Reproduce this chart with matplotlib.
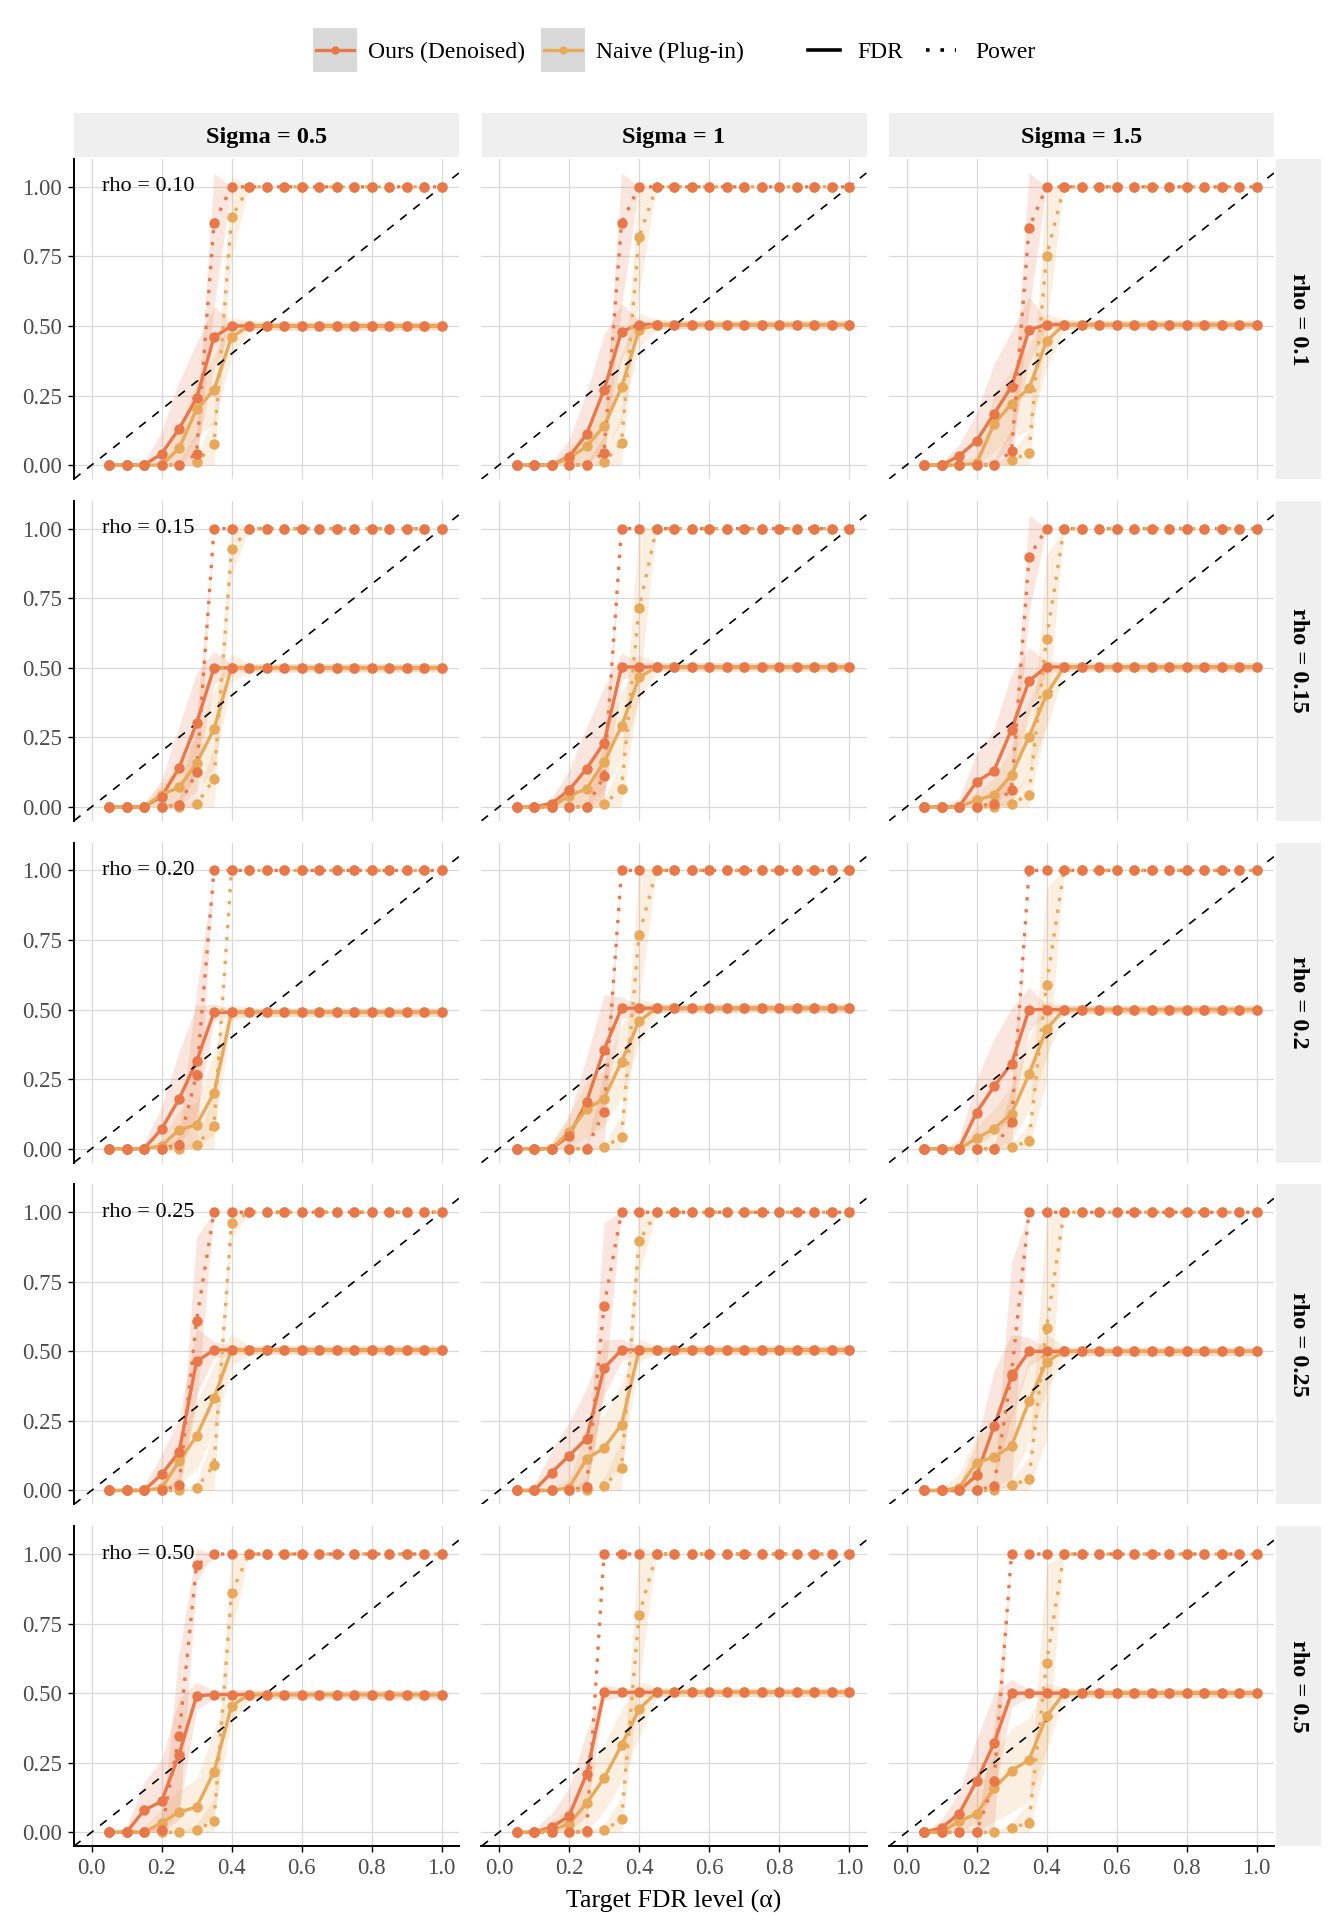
import matplotlib
matplotlib.use("Agg")
import numpy as np
import matplotlib.pyplot as plt
from matplotlib.patches import Rectangle
from matplotlib.lines import Line2D

plt.rcParams["font.family"] = ["Liberation Serif", "DejaVu Serif"]

# target FDR levels (x axis)
X = [0.05, 0.10, 0.15, 0.20, 0.25, 0.30, 0.35, 0.40, 0.45, 0.50,
     0.55, 0.60, 0.65, 0.70, 0.75, 0.80, 0.85, 0.90, 0.95, 1.00]
RHO = ["0.1", "0.15", "0.2", "0.25", "0.5"]
RHO_NOTE = ["rho = 0.10", "rho = 0.15", "rho = 0.20", "rho = 0.25", "rho = 0.50"]
SIGMA = ["0.5", "1", "1.5"]

# mean curves, indexed [rho][sigma] -> 20 values
OURS_FDR = [
    [[0, 0, 0, .04, .13, .24, .46, .50, .50, .50, .50, .50, .50, .50, .50, .50, .50, .50, .50, .50],
     [0, 0, 0, .03, .11, .27, .48, .505, .505, .505, .505, .505, .505, .505, .505, .505, .505, .505, .505, .505],
     [0, 0, .032, .087, .184, .282, .486, .505, .505, .505, .505, .505, .505, .505, .505, .505, .505, .505, .505, .505]],
    [[0, 0, 0, .037, .14, .30, .50, .50, .50, .50, .50, .50, .50, .50, .50, .50, .50, .50, .50, .50],
     [0, 0, .012, .06, .137, .23, .503, .503, .503, .503, .503, .503, .503, .503, .503, .503, .503, .503, .503, .503],
     [0, 0, 0, .09, .13, .278, .453, .503, .503, .503, .503, .503, .503, .503, .503, .503, .503, .503, .503, .503]],
    [[0, 0, 0, .07, .178, .314, .49, .49, .49, .49, .49, .49, .49, .49, .49, .49, .49, .49, .49, .49],
     [0, 0, 0, .046, .168, .355, .505, .505, .505, .505, .505, .505, .505, .505, .505, .505, .505, .505, .505, .505],
     [0, 0, 0, .13, .224, .305, .50, .50, .50, .50, .50, .50, .50, .50, .50, .50, .50, .50, .50, .50]],
    [[0, 0, 0, .058, .137, .464, .505, .505, .505, .505, .505, .505, .505, .505, .505, .505, .505, .505, .505, .505],
     [0, 0, .064, .125, .186, .44, .505, .505, .505, .505, .505, .505, .505, .505, .505, .505, .505, .505, .505, .505],
     [0, 0, 0, .054, .23, .41, .50, .50, .50, .50, .50, .50, .50, .50, .50, .50, .50, .50, .50, .50]],
    [[0, 0, .079, .111, .279, .49, .495, .495, .495, .495, .495, .495, .495, .495, .495, .495, .495, .495, .495, .495],
     [0, 0, .018, .058, .209, .503, .503, .503, .503, .503, .503, .503, .503, .503, .503, .503, .503, .503, .503, .503],
     [0, .016, .066, .183, .32, .50, .50, .50, .50, .50, .50, .50, .50, .50, .50, .50, .50, .50, .50, .50]],
]
NAIVE_FDR = [
    [[0, 0, 0, 0, .06, .20, .27, .46, .50, .50, .50, .50, .50, .50, .50, .50, .50, .50, .50, .50],
     [0, 0, 0, .025, .067, .14, .28, .485, .505, .505, .505, .505, .505, .505, .505, .505, .505, .505, .505, .505],
     [0, 0, 0, .006, .148, .22, .276, .445, .505, .505, .505, .505, .505, .505, .505, .505, .505, .505, .505, .505]],
    [[0, 0, 0, .044, .07, .156, .28, .50, .50, .50, .50, .50, .50, .50, .50, .50, .50, .50, .50, .50],
     [0, 0, 0, .04, .065, .16, .29, .465, .503, .503, .503, .503, .503, .503, .503, .503, .503, .503, .503, .503],
     [0, 0, 0, .024, .043, .115, .252, .404, .503, .503, .503, .503, .503, .503, .503, .503, .503, .503, .503, .503]],
    [[0, 0, 0, .01, .068, .086, .20, .49, .49, .49, .49, .49, .49, .49, .49, .49, .49, .49, .49, .49],
     [0, 0, 0, .06, .142, .18, .313, .458, .505, .505, .505, .505, .505, .505, .505, .505, .505, .505, .505, .505],
     [0, 0, 0, .037, .072, .125, .268, .43, .50, .50, .50, .50, .50, .50, .50, .50, .50, .50, .50, .50]],
    [[0, 0, 0, .008, .105, .195, .332, .505, .505, .505, .505, .505, .505, .505, .505, .505, .505, .505, .505, .505],
     [0, 0, 0, .01, .113, .153, .237, .505, .505, .505, .505, .505, .505, .505, .505, .505, .505, .505, .505, .505],
     [0, 0, .01, .10, .12, .16, .32, .463, .50, .50, .50, .50, .50, .50, .50, .50, .50, .50, .50, .50]],
    [[0, 0, 0, .034, .073, .09, .217, .454, .495, .495, .495, .495, .495, .495, .495, .495, .495, .495, .495, .495],
     [0, 0, .008, .03, .104, .194, .313, .442, .503, .503, .503, .503, .503, .503, .503, .503, .503, .503, .503, .503],
     [0, 0, .04, .066, .158, .222, .26, .417, .50, .50, .50, .50, .50, .50, .50, .50, .50, .50, .50, .50]],
]
OURS_POWER = [
    [[0, 0, 0, 0, 0, .04, .87, 1, 1, 1, 1, 1, 1, 1, 1, 1, 1, 1, 1, 1],
     [0, 0, 0, 0, 0, .045, .87, 1, 1, 1, 1, 1, 1, 1, 1, 1, 1, 1, 1, 1],
     [0, 0, 0, 0, 0, .05, .852, 1, 1, 1, 1, 1, 1, 1, 1, 1, 1, 1, 1, 1]],
    [[0, 0, 0, 0, .006, .124, 1, 1, 1, 1, 1, 1, 1, 1, 1, 1, 1, 1, 1, 1],
     [0, 0, 0, 0, 0, .11, 1, 1, 1, 1, 1, 1, 1, 1, 1, 1, 1, 1, 1, 1],
     [0, 0, 0, 0, .012, .06, .898, 1, 1, 1, 1, 1, 1, 1, 1, 1, 1, 1, 1, 1]],
    [[0, 0, 0, 0, .015, .265, 1, 1, 1, 1, 1, 1, 1, 1, 1, 1, 1, 1, 1, 1],
     [0, 0, 0, 0, 0, .133, 1, 1, 1, 1, 1, 1, 1, 1, 1, 1, 1, 1, 1, 1],
     [0, 0, 0, 0, 0, .095, 1, 1, 1, 1, 1, 1, 1, 1, 1, 1, 1, 1, 1, 1]],
    [[0, 0, 0, 0, .018, .61, 1, 1, 1, 1, 1, 1, 1, 1, 1, 1, 1, 1, 1, 1],
     [0, 0, 0, 0, .012, .663, 1, 1, 1, 1, 1, 1, 1, 1, 1, 1, 1, 1, 1, 1],
     [0, 0, 0, 0, .015, .42, 1, 1, 1, 1, 1, 1, 1, 1, 1, 1, 1, 1, 1, 1]],
    [[0, 0, 0, .007, .345, .96, 1, 1, 1, 1, 1, 1, 1, 1, 1, 1, 1, 1, 1, 1],
     [0, 0, 0, 0, .003, 1, 1, 1, 1, 1, 1, 1, 1, 1, 1, 1, 1, 1, 1, 1],
     [0, 0, 0, 0, .183, 1, 1, 1, 1, 1, 1, 1, 1, 1, 1, 1, 1, 1, 1, 1]],
]
NAIVE_POWER = [
    [[0, 0, 0, 0, 0, .01, .075, .89, 1, 1, 1, 1, 1, 1, 1, 1, 1, 1, 1, 1],
     [0, 0, 0, 0, 0, .01, .08, .82, 1, 1, 1, 1, 1, 1, 1, 1, 1, 1, 1, 1],
     [0, 0, 0, 0, 0, .017, .044, .75, 1, 1, 1, 1, 1, 1, 1, 1, 1, 1, 1, 1]],
    [[0, 0, 0, 0, 0, .01, .10, .927, 1, 1, 1, 1, 1, 1, 1, 1, 1, 1, 1, 1],
     [0, 0, 0, 0, 0, .01, .065, .713, 1, 1, 1, 1, 1, 1, 1, 1, 1, 1, 1, 1],
     [0, 0, 0, 0, 0, .012, .043, .605, 1, 1, 1, 1, 1, 1, 1, 1, 1, 1, 1, 1]],
    [[0, 0, 0, 0, 0, .012, .083, 1, 1, 1, 1, 1, 1, 1, 1, 1, 1, 1, 1, 1],
     [0, 0, 0, 0, 0, .006, .041, .768, 1, 1, 1, 1, 1, 1, 1, 1, 1, 1, 1, 1],
     [0, 0, 0, 0, 0, .005, .028, .59, 1, 1, 1, 1, 1, 1, 1, 1, 1, 1, 1, 1]],
    [[0, 0, 0, 0, 0, .008, .092, .962, 1, 1, 1, 1, 1, 1, 1, 1, 1, 1, 1, 1],
     [0, 0, 0, 0, 0, .015, .082, .896, 1, 1, 1, 1, 1, 1, 1, 1, 1, 1, 1, 1],
     [0, 0, 0, 0, 0, .018, .042, .585, 1, 1, 1, 1, 1, 1, 1, 1, 1, 1, 1, 1]],
    [[0, 0, 0, 0, 0, .008, .04, .861, 1, 1, 1, 1, 1, 1, 1, 1, 1, 1, 1, 1],
     [0, 0, 0, 0, 0, .008, .046, .78, 1, 1, 1, 1, 1, 1, 1, 1, 1, 1, 1, 1],
     [0, 0, 0, 0, 0, .016, .034, .61, 1, 1, 1, 1, 1, 1, 1, 1, 1, 1, 1, 1]],
]

# spread across replications (ribbon half-width), same layout
OURS_FDR_SD = [
    [[0, 0, .01, .08, .17, .2, .11, .015, .015, .015, .015, .015, .015, .015, .015, .015, .015, .015, .015, .015],
     [0, 0, .01, .06, .15, .2, .1, .015, .015, .015, .015, .015, .015, .015, .015, .015, .015, .015, .015, .015],
     [0, .01, .04, .1, .18, .2, .12, .015, .015, .015, .015, .015, .015, .015, .015, .015, .015, .015, .015, .015]],
    [[0, 0, .01, .06, .15, .18, .06, .015, .015, .015, .015, .015, .015, .015, .015, .015, .015, .015, .015, .015],
     [0, 0, .02, .07, .15, .2, .05, .015, .015, .015, .015, .015, .015, .015, .015, .015, .015, .015, .015, .015],
     [0, 0, .03, .1, .15, .2, .12, .02, .015, .015, .015, .015, .015, .015, .015, .015, .015, .015, .015, .015]],
    [[0, 0, .02, .08, .17, .2, .03, .015, .015, .015, .015, .015, .015, .015, .015, .015, .015, .015, .015, .015],
     [0, 0, .02, .07, .16, .2, .04, .015, .015, .015, .015, .015, .015, .015, .015, .015, .015, .015, .015, .015],
     [0, 0, .03, .12, .17, .2, .08, .015, .015, .015, .015, .015, .015, .015, .015, .015, .015, .015, .015, .015]],
    [[0, 0, .02, .07, .12, .12, .03, .015, .015, .015, .015, .015, .015, .015, .015, .015, .015, .015, .015, .015],
     [0, .02, .08, .12, .18, .1, .04, .015, .015, .015, .015, .015, .015, .015, .015, .015, .015, .015, .015, .015],
     [0, 0, .02, .12, .2, .15, .05, .015, .015, .015, .015, .015, .015, .015, .015, .015, .015, .015, .015, .015]],
    [[0, .02, .1, .15, .2, .05, .015, .015, .015, .015, .015, .015, .015, .015, .015, .015, .015, .015, .015, .015],
     [0, .01, .05, .1, .15, .03, .015, .015, .015, .015, .015, .015, .015, .015, .015, .015, .015, .015, .015, .015],
     [0, .03, .08, .15, .18, .05, .015, .015, .015, .015, .015, .015, .015, .015, .015, .015, .015, .015, .015, .015]],
]
NAIVE_FDR_SD = [
    [[0, 0, 0, .01, .07, .1, .12, .07, .02, .015, .015, .015, .015, .015, .015, .015, .015, .015, .015, .015],
     [0, 0, 0, .03, .06, .1, .12, .06, .02, .015, .015, .015, .015, .015, .015, .015, .015, .015, .015, .015],
     [0, 0, .01, .03, .1, .12, .15, .1, .02, .015, .015, .015, .015, .015, .015, .015, .015, .015, .015, .015]],
    [[0, 0, .01, .04, .07, .1, .14, .05, .015, .015, .015, .015, .015, .015, .015, .015, .015, .015, .015, .015],
     [0, 0, .01, .04, .06, .1, .12, .08, .02, .015, .015, .015, .015, .015, .015, .015, .015, .015, .015, .015],
     [0, 0, .01, .03, .06, .1, .13, .12, .02, .015, .015, .015, .015, .015, .015, .015, .015, .015, .015, .015]],
    [[0, 0, 0, .02, .07, .08, .15, .03, .015, .015, .015, .015, .015, .015, .015, .015, .015, .015, .015, .015],
     [0, 0, .02, .06, .1, .1, .13, .08, .02, .015, .015, .015, .015, .015, .015, .015, .015, .015, .015, .015],
     [0, 0, .01, .04, .07, .1, .13, .1, .02, .015, .015, .015, .015, .015, .015, .015, .015, .015, .015, .015]],
    [[0, 0, 0, .02, .08, .12, .12, .06, .015, .015, .015, .015, .015, .015, .015, .015, .015, .015, .015, .015],
     [0, 0, .01, .03, .1, .12, .15, .04, .015, .015, .015, .015, .015, .015, .015, .015, .015, .015, .015, .015],
     [0, .01, .05, .1, .1, .12, .15, .1, .02, .015, .015, .015, .015, .015, .015, .015, .015, .015, .015, .015]],
    [[0, 0, .02, .05, .08, .1, .15, .06, .02, .015, .015, .015, .015, .015, .015, .015, .015, .015, .015, .015],
     [0, 0, .03, .06, .1, .12, .13, .1, .02, .015, .015, .015, .015, .015, .015, .015, .015, .015, .015, .015],
     [0, .01, .05, .08, .12, .15, .15, .12, .02, .015, .015, .015, .015, .015, .015, .015, .015, .015, .015, .015]],
]
OURS_POWER_SD = [
    [[0, 0, 0, 0, .01, .08, .3, 0, 0, 0, 0, 0, 0, 0, 0, 0, 0, 0, 0, 0],
     [0, 0, 0, 0, .01, .06, .3, 0, 0, 0, 0, 0, 0, 0, 0, 0, 0, 0, 0, 0],
     [0, 0, 0, 0, .02, .08, .3, 0, 0, 0, 0, 0, 0, 0, 0, 0, 0, 0, 0, 0]],
    [[0, 0, 0, 0, .02, .2, 0, 0, 0, 0, 0, 0, 0, 0, 0, 0, 0, 0, 0, 0],
     [0, 0, 0, 0, .01, .12, 0, 0, 0, 0, 0, 0, 0, 0, 0, 0, 0, 0, 0, 0],
     [0, 0, 0, 0, .02, .08, .2, 0, 0, 0, 0, 0, 0, 0, 0, 0, 0, 0, 0, 0]],
    [[0, 0, 0, 0, .03, .3, 0, 0, 0, 0, 0, 0, 0, 0, 0, 0, 0, 0, 0, 0],
     [0, 0, 0, 0, .01, .14, 0, 0, 0, 0, 0, 0, 0, 0, 0, 0, 0, 0, 0, 0],
     [0, 0, 0, 0, .01, .12, 0, 0, 0, 0, 0, 0, 0, 0, 0, 0, 0, 0, 0, 0]],
    [[0, 0, 0, 0, .03, .3, 0, 0, 0, 0, 0, 0, 0, 0, 0, 0, 0, 0, 0, 0],
     [0, 0, 0, 0, .03, .3, 0, 0, 0, 0, 0, 0, 0, 0, 0, 0, 0, 0, 0, 0],
     [0, 0, 0, 0, .02, .4, 0, 0, 0, 0, 0, 0, 0, 0, 0, 0, 0, 0, 0, 0]],
    [[0, 0, 0, .02, .3, .06, 0, 0, 0, 0, 0, 0, 0, 0, 0, 0, 0, 0, 0, 0],
     [0, 0, 0, 0, .02, 0, 0, 0, 0, 0, 0, 0, 0, 0, 0, 0, 0, 0, 0, 0],
     [0, 0, 0, .02, .2, 0, 0, 0, 0, 0, 0, 0, 0, 0, 0, 0, 0, 0, 0, 0]],
]
NAIVE_POWER_SD = [
    [[0, 0, 0, 0, 0, .02, .1, .15, 0, 0, 0, 0, 0, 0, 0, 0, 0, 0, 0, 0],
     [0, 0, 0, 0, 0, .02, .1, .2, 0, 0, 0, 0, 0, 0, 0, 0, 0, 0, 0, 0],
     [0, 0, 0, 0, 0, .03, .08, .25, 0, 0, 0, 0, 0, 0, 0, 0, 0, 0, 0, 0]],
    [[0, 0, 0, 0, 0, .02, .12, .1, 0, 0, 0, 0, 0, 0, 0, 0, 0, 0, 0, 0],
     [0, 0, 0, 0, 0, .02, .1, .3, 0, 0, 0, 0, 0, 0, 0, 0, 0, 0, 0, 0],
     [0, 0, 0, 0, 0, .02, .08, .3, 0, 0, 0, 0, 0, 0, 0, 0, 0, 0, 0, 0]],
    [[0, 0, 0, 0, 0, .02, .12, 0, 0, 0, 0, 0, 0, 0, 0, 0, 0, 0, 0, 0],
     [0, 0, 0, 0, 0, .01, .08, .25, 0, 0, 0, 0, 0, 0, 0, 0, 0, 0, 0, 0],
     [0, 0, 0, 0, 0, .01, .06, .35, 0, 0, 0, 0, 0, 0, 0, 0, 0, 0, 0, 0]],
    [[0, 0, 0, 0, 0, .02, .12, .06, 0, 0, 0, 0, 0, 0, 0, 0, 0, 0, 0, 0],
     [0, 0, 0, 0, 0, .03, .1, .12, 0, 0, 0, 0, 0, 0, 0, 0, 0, 0, 0, 0],
     [0, 0, 0, 0, 0, .02, .08, .4, 0, 0, 0, 0, 0, 0, 0, 0, 0, 0, 0, 0]],
    [[0, 0, 0, 0, 0, .02, .08, .15, 0, 0, 0, 0, 0, 0, 0, 0, 0, 0, 0, 0],
     [0, 0, 0, 0, 0, .02, .08, .25, 0, 0, 0, 0, 0, 0, 0, 0, 0, 0, 0, 0],
     [0, 0, 0, 0, 0, .02, .07, .35, 0, 0, 0, 0, 0, 0, 0, 0, 0, 0, 0, 0]],
]

for arr in (OURS_FDR, NAIVE_FDR, OURS_POWER, NAIVE_POWER,
            OURS_FDR_SD, NAIVE_FDR_SD, OURS_POWER_SD, NAIVE_POWER_SD):
    for row in arr:
        for s in row:
            assert len(s) == len(X)

OURS_COLOR = "#E8784A"
NAIVE_COLOR = "#E8A95A"

W, H = 1340, 1927
fig = plt.figure(figsize=(W / 100, H / 100), dpi=100)

# pixel-space overlay for strips, legend and axis title
ov = fig.add_axes([0, 0, 1, 1], zorder=-1)
ov.set_xlim(0, W)
ov.set_ylim(H, 0)
ov.axis("off")

COL_L, COL_STEP, PW = 74, 407.5, 385
ROW_T, ROW_STEP, PH = 159, 341.8, 320

x = np.array(X)
for r in range(len(RHO)):
    for c in range(len(SIGMA)):
        left = COL_L + c * COL_STEP
        top = ROW_T + r * ROW_STEP
        ax = fig.add_axes([left / W, 1 - (top + PH) / H, PW / W, PH / H])
        ax.set_xlim(-0.05, 1.05)
        ax.set_ylim(-0.05, 1.10)
        ax.set_xticks([0, 0.2, 0.4, 0.6, 0.8, 1.0])
        ax.set_xticklabels(["0.0", "0.2", "0.4", "0.6", "0.8", "1.0"])
        ax.set_yticks([0, 0.25, 0.5, 0.75, 1.0])
        ax.set_yticklabels(["0.00", "0.25", "0.50", "0.75", "1.00"])
        ax.grid(True, color="#D9D9D9", lw=0.9)
        ax.set_axisbelow(True)
        for sp in ax.spines.values():
            sp.set_visible(False)
        ax.tick_params(labelsize=16.5, labelcolor="#4D4D4D", color="black",
                       length=4.5, width=1.0, pad=4)
        if c == 0:
            ax.spines["left"].set_visible(True)
            ax.spines["left"].set_linewidth(1.4)
        else:
            ax.tick_params(left=False, labelleft=False)
        if r == len(RHO) - 1:
            ax.spines["bottom"].set_visible(True)
            ax.spines["bottom"].set_linewidth(1.4)
        else:
            ax.tick_params(bottom=False, labelbottom=False)

        series = [
            (OURS_FDR, OURS_FDR_SD, OURS_COLOR, "-"),
            (NAIVE_FDR, NAIVE_FDR_SD, NAIVE_COLOR, "-"),
            (OURS_POWER, OURS_POWER_SD, OURS_COLOR, (0, (1, 2.6))),
            (NAIVE_POWER, NAIVE_POWER_SD, NAIVE_COLOR, (0, (1, 2.6))),
        ]
        for mean, sd, col, ls in series:
            m = np.array(mean[r][c])
            s = np.array(sd[r][c])
            ax.fill_between(x, np.clip(m - s, 0, 1.05), np.clip(m + s, 0, 1.05),
                            color=col, alpha=0.18, lw=0, zorder=1)
        for mean, sd, col, ls in series:
            ax.plot(x, mean[r][c], color=col, ls=ls, lw=2.4, zorder=2)
        ax.axline((0, 0), slope=1, color="black", ls=(0, (5, 5)), lw=1.2, zorder=3)
        for mean, col in [(NAIVE_FDR, NAIVE_COLOR), (NAIVE_POWER, NAIVE_COLOR),
                          (OURS_FDR, OURS_COLOR), (OURS_POWER, OURS_COLOR)]:
            ax.plot(x, mean[r][c], ls="none", marker="o", ms=7.5, color=col,
                    mec="none", zorder=4)
        if c == 0:
            ax.text(0.03, 1.0, RHO_NOTE[r], fontsize=16, ha="left", va="center", zorder=6)

        # strips
        if r == 0:
            ov.add_patch(Rectangle((left, 113), PW, 44, facecolor="#EFEFEF", lw=0))
            ov.text(left + PW / 2, 138, "Sigma = " + SIGMA[c], fontsize=17.5,
                    fontweight="bold", ha="center", va="center")
        if c == len(SIGMA) - 1:
            ov.add_patch(Rectangle((1276, top), 45, PH, facecolor="#EFEFEF", lw=0))
            ov.text(1298.5, top + PH / 2, "rho = " + RHO[r], fontsize=17.5,
                    fontweight="bold", ha="center", va="center", rotation=-90)

# legend
LY = 52
ov.add_patch(Rectangle((313, 28), 44, 44, facecolor="#D9D9D9", lw=0))
ov.add_line(Line2D([316, 354], [50, 50], color=OURS_COLOR, lw=2.4))
ov.add_line(Line2D([335], [50], color=OURS_COLOR, marker="o", ms=6, mec="none"))
ov.text(368, LY, "Ours (Denoised)", fontsize=17, ha="left", va="center")
ov.add_patch(Rectangle((541, 28), 44, 44, facecolor="#D9D9D9", lw=0))
ov.add_line(Line2D([544, 582], [50, 50], color=NAIVE_COLOR, lw=2.4))
ov.add_line(Line2D([563], [50], color=NAIVE_COLOR, marker="o", ms=6, mec="none"))
ov.text(596, LY, "Naive (Plug-in)", fontsize=17, ha="left", va="center")
ov.add_line(Line2D([808, 840], [50, 50], color="black", lw=2.6))
ov.text(857, LY, "FDR", fontsize=17, ha="left", va="center")
ov.add_line(Line2D([926, 956], [50, 50], color="black", lw=2.6, ls=(0, (1, 3))))
ov.text(975, LY, "Power", fontsize=17, ha="left", va="center")

ov.text(674, 1901, "Target FDR level (\u03b1)", fontsize=18.5, ha="center", va="center")

fig.savefig("out.png", dpi=100)
